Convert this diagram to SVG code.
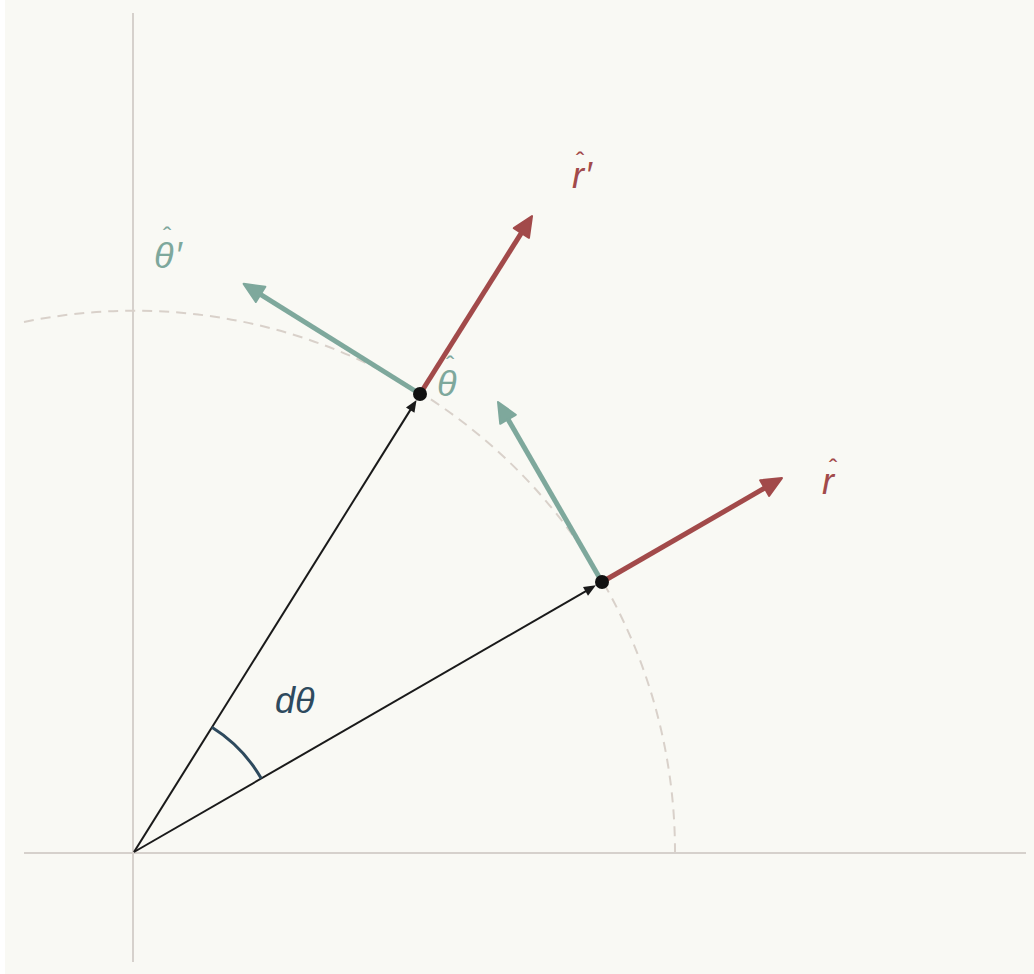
<svg xmlns="http://www.w3.org/2000/svg" width="1034" height="974" viewBox="0 0 1034 974">
<style>
.axis{stroke:#d6d1cc;stroke-width:2;fill:none}
.circ{stroke:#d9d1ca;stroke-width:2;fill:none;stroke-dasharray:10 7}
.pos{stroke:#1a1a1a;stroke-width:2;fill:none}
.red{stroke:#a24a4a;stroke-width:5;fill:none}
.teal{stroke:#7ea89c;stroke-width:5;fill:none}
.arc{stroke:#2e4a5e;stroke-width:3;fill:none}
.lbl{font-family:"Liberation Sans",Arial,sans-serif;font-style:italic;font-size:36px}
.hat{font-size:25px;font-style:normal}
.r{fill:#a24a4a}
.t{fill:#7ea89c}
.n{fill:#2e4a5e}
</style>
<defs>
<marker id="hr" markerUnits="userSpaceOnUse" markerWidth="24" markerHeight="24" viewBox="0 0 24 24" refX="6" refY="12" orient="auto">
<path d="M2,3 L22,12 L2,21 Z" fill="#a24a4a" stroke="#a24a4a" stroke-width="2" stroke-linejoin="round"/>
</marker>
<marker id="ht" markerUnits="userSpaceOnUse" markerWidth="24" markerHeight="24" viewBox="0 0 24 24" refX="6" refY="12" orient="auto">
<path d="M2,3 L22,12 L2,21 Z" fill="#7ea89c" stroke="#7ea89c" stroke-width="2" stroke-linejoin="round"/>
</marker>
<marker id="hb" markerUnits="userSpaceOnUse" markerWidth="14" markerHeight="14" viewBox="0 0 14 14" refX="4" refY="7" orient="auto">
<path d="M1,2 L13,7 L1,12 Z" fill="#1a1a1a"/>
</marker>
</defs>
<rect x="5" y="0" width="1029" height="974" fill="#f9f9f4"/>
<g id="axes">
<line class="axis" x1="24" y1="853" x2="1026" y2="853"/>
<line class="axis" x1="133" y1="13" x2="133" y2="962"/>
</g>
<path id="circle" class="circ" d="M24,322 A541,541 0 0 1 675,852"/>
<g id="connectors">
<line class="pos" x1="134" y1="852" x2="588.1" y2="589.8" marker-end="url(#hb)"/>
<line class="pos" x1="134" y1="852" x2="411.8" y2="407.6" marker-end="url(#hb)"/>
<line class="red" x1="602" y1="582" x2="768.1" y2="486.1" marker-end="url(#hr)"/>
<line class="teal" x1="602" y1="582" x2="506" y2="415.8" marker-end="url(#ht)"/>
<line class="red" x1="420" y1="394" x2="523.5" y2="229.6" marker-end="url(#hr)"/>
<line class="teal" x1="420" y1="394" x2="257.2" y2="292.3" marker-end="url(#ht)"/>
<path class="arc" d="M261.3,778.5 A147,147 0 0 0 211.9,727.3"/>
</g>
<g id="point1"><circle cx="602" cy="582" r="7" fill="#111"/></g>
<g id="point2"><circle cx="420" cy="394" r="7" fill="#111"/></g>
<g id="label-r">
<text class="lbl r" x="822" y="494">r<tspan class="hat" x="829" y="477">ˆ</tspan></text>
</g>
<g id="label-rprime">
<text class="lbl r" x="572" y="188">r<tspan x="585" y="188">′</tspan><tspan class="hat" x="576" y="170">ˆ</tspan></text>
</g>
<g id="label-theta">
<text class="lbl t" x="437" y="396">θ<tspan class="hat" x="446" y="374">ˆ</tspan></text>
</g>
<g id="label-thetaprime">
<text class="lbl t" x="154" y="268">θ<tspan x="175" y="268">′</tspan><tspan class="hat" x="163" y="245">ˆ</tspan></text>
</g>
<g id="label-dtheta">
<text class="lbl n" x="275" y="713">dθ</text>
</g>
</svg>
